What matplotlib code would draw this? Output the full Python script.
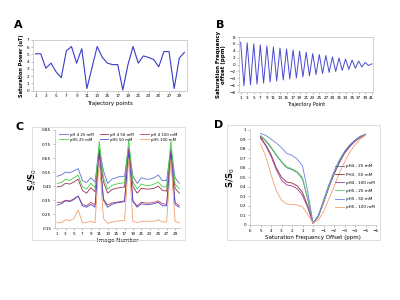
import matplotlib
matplotlib.use("Agg")
import matplotlib.pyplot as plt
from matplotlib.patches import Rectangle
import numpy as np

# ---- panel A : saturation power per trajectory point
a_points = list(range(1, 31))
a_power = [5.1, 5.1, 3.1, 3.8, 2.6, 1.8, 5.5, 6.1, 3.8, 5.8,
           0.3, 3.2, 6.1, 4.6, 3.8, 3.6, 3.6, 0.1, 3.6, 6.1,
           3.8, 4.8, 4.6, 4.3, 3.3, 5.4, 5.4, 0.3, 4.5, 5.3]

# ---- panel B : saturation frequency offset per trajectory point
b_points = list(range(1, 42))
b_offset = [6.5, -6.2, 6.3, -5.9, 6.0, -5.7, 5.7, -5.4, 5.4, -5.1,
            5.1, -4.8, 4.8, -4.5, 4.5, -4.2, 4.2, -3.9, 3.9, -3.6,
            3.6, -3.3, 3.2, -2.9, 2.9, -2.6, 2.6, -2.3, 2.2, -2.0,
            1.9, -1.7, 1.6, -1.4, 1.3, -1.1, 1.0, -0.7, 0.6, -0.3, 0.2]

# ---- panel C : Sf/S0 per image
c_images = list(range(1, 31))
c_labels = ["pH 4 25 mM", "pH 4 50 mM", "pH 4 100 mM",
            "pH5 25 mM", "pH5 50 mM", "pH5 100 mM"]
c_ph4_25 = [0.52, 0.53, 0.55, 0.545, 0.56, 0.575, 0.49, 0.475, 0.51, 0.48,
            0.72, 0.56, 0.47, 0.50, 0.51, 0.52, 0.52, 0.73, 0.52, 0.47,
            0.51, 0.50, 0.50, 0.51, 0.53, 0.49, 0.49, 0.72, 0.51, 0.47]
c_ph4_50 = [0.445, 0.45, 0.47, 0.465, 0.48, 0.50, 0.42, 0.40, 0.44, 0.41,
            0.70, 0.48, 0.40, 0.425, 0.435, 0.44, 0.445, 0.71, 0.45, 0.40,
            0.435, 0.43, 0.43, 0.435, 0.45, 0.42, 0.415, 0.70, 0.435, 0.40]
c_ph4_100 = [0.335, 0.335, 0.35, 0.345, 0.36, 0.38, 0.32, 0.31, 0.335, 0.315,
             0.69, 0.36, 0.315, 0.33, 0.335, 0.34, 0.345, 0.70, 0.345, 0.31,
             0.335, 0.33, 0.33, 0.335, 0.345, 0.325, 0.32, 0.69, 0.335, 0.31]
c_ph5_25 = [0.47, 0.475, 0.50, 0.49, 0.51, 0.53, 0.445, 0.43, 0.47, 0.44,
            0.77, 0.51, 0.43, 0.455, 0.465, 0.47, 0.475, 0.78, 0.48, 0.43,
            0.465, 0.455, 0.455, 0.465, 0.48, 0.445, 0.445, 0.77, 0.465, 0.43]
c_ph5_50 = [0.315, 0.325, 0.345, 0.34, 0.355, 0.38, 0.31, 0.30, 0.32, 0.30,
            0.68, 0.35, 0.30, 0.32, 0.33, 0.335, 0.34, 0.69, 0.34, 0.30,
            0.325, 0.32, 0.32, 0.325, 0.335, 0.31, 0.31, 0.68, 0.32, 0.30]
c_ph5_100 = [0.19, 0.19, 0.21, 0.205, 0.22, 0.28, 0.19, 0.19, 0.20, 0.19,
             0.64, 0.22, 0.185, 0.195, 0.20, 0.205, 0.205, 0.65, 0.20, 0.19,
             0.20, 0.20, 0.20, 0.20, 0.21, 0.195, 0.195, 0.64, 0.20, 0.19]
c_colors = ["#6070d0", "#993355", "#c04050", "#44d044", "#4848d8", "#f0a070"]

# ---- panel D : z-spectra
d_offset = [5, 4.5, 4, 3.5, 3, 2.5, 2, 1.5, 1, 0.5, 0,
            -0.5, -1, -1.5, -2, -2.5, -3, -3.5, -4, -4.5, -5]
d_labels = ["pH4 - 25 mM", "PH4 - 50 mM", "pH4 - 100 mM",
            "pH5 - 25 mM", "pH5 - 50 mM", "pH5 - 100 mM"]
d_ph4_25 = [0.93, 0.88, 0.81, 0.73, 0.66, 0.60, 0.58, 0.55, 0.48, 0.27, 0.02,
            0.09, 0.24, 0.40, 0.54, 0.66, 0.76, 0.83, 0.88, 0.92, 0.95]
d_ph4_50 = [0.92, 0.84, 0.74, 0.60, 0.50, 0.45, 0.44, 0.41, 0.34, 0.20, 0.02,
            0.09, 0.24, 0.40, 0.54, 0.66, 0.76, 0.83, 0.88, 0.92, 0.95]
d_ph4_100 = [0.91, 0.83, 0.72, 0.58, 0.47, 0.42, 0.41, 0.38, 0.31, 0.18, 0.02,
             0.09, 0.23, 0.39, 0.53, 0.65, 0.75, 0.82, 0.88, 0.92, 0.95]
d_ph5_25 = [0.94, 0.89, 0.82, 0.74, 0.67, 0.61, 0.59, 0.56, 0.50, 0.28, 0.02,
            0.09, 0.24, 0.40, 0.55, 0.67, 0.77, 0.84, 0.89, 0.93, 0.95]
d_ph5_50 = [0.96, 0.94, 0.90, 0.86, 0.81, 0.75, 0.73, 0.69, 0.62, 0.35, 0.02,
            0.10, 0.26, 0.42, 0.56, 0.68, 0.77, 0.84, 0.89, 0.93, 0.95]
d_ph5_100 = [0.85, 0.72, 0.53, 0.36, 0.26, 0.22, 0.215, 0.21, 0.19, 0.11, 0.02,
             0.05, 0.14, 0.27, 0.40, 0.54, 0.66, 0.76, 0.84, 0.90, 0.94]
d_colors = ["#5b6a8a", "#8b2d3a", "#a0409a", "#5cd65c", "#6f7fe0", "#f4a070"]

tick_fs = 3
label_fs = 4
gray = "#c8c8c8"

fig = plt.figure(figsize=(4, 3), dpi=100)

def style(ax, box=True):
  for s in ax.spines.values():
    s.set_color(gray)
    s.set_linewidth(0.6)
  if not box:
    ax.spines["top"].set_visible(False)
    ax.spines["right"].set_visible(False)
  ax.tick_params(labelsize=tick_fs, length=1.2, width=0.4, pad=1.5, color="#888888")

#--------------------------------------------------------
#- A
#--------------------------------------------------------
axA = fig.add_axes([0.0825, 0.6977, 0.385, 0.169])
axA.plot(a_points, a_power, color="#3a3ac8", lw=0.8)
axA.set_xlim(0.5, 30.5)
axA.set_ylim(0, 7)
axA.set_xticks(range(1, 30, 2))
axA.set_yticks(range(0, 8))
axA.set_xlabel("Trajectory points", fontsize=label_fs, labelpad=1.5)
axA.set_ylabel("Saturation Power (uT)", fontsize=3.6, fontweight="bold", labelpad=2)
style(axA)
fig.text(0.035, 0.915, "A", fontsize=8, fontweight="bold", va="center")

#--------------------------------------------------------
#- B
#--------------------------------------------------------
axB = fig.add_axes([0.5975, 0.6933, 0.336, 0.1833])
axB.plot(b_points, b_offset, color="#4a4ad0", lw=0.7)
axB.set_xlim(0.5, 41.5)
axB.set_ylim(-8, 8)
axB.set_xticks(range(1, 42, 2))
axB.set_yticks(range(-8, 9, 2))
axB.set_xlabel("Trajectory Point", fontsize=3.5, labelpad=1.5)
axB.set_ylabel("Saturation Frequency\noffset (ppm)", fontsize=4,
               fontweight="bold", labelpad=2, linespacing=1.1)
style(axB)
fig.text(0.54, 0.915, "B", fontsize=8, fontweight="bold", va="center")

#--------------------------------------------------------
#- C
#--------------------------------------------------------
fig.patches.append(Rectangle((0.08, 0.2), 0.3825, 0.377, transform=fig.transFigure,
                             fill=False, edgecolor="#d8d8d8", lw=0.6))
axC = fig.add_axes([0.1375, 0.239, 0.316, 0.3277])
c_series = [c_ph4_25, c_ph4_50, c_ph4_100, c_ph5_25, c_ph5_50, c_ph5_100]
handles = []
for vals, col, lab in zip(c_series, c_colors, c_labels):
  h, = axC.plot(c_images, vals, color=col, lw=0.6, label=lab)
  handles.append(h)
axC.set_xlim(0.5, 30.5)
axC.set_ylim(0.15, 0.85)
axC.set_xticks(range(1, 30, 2))
axC.set_yticks(np.arange(0.15, 0.86, 0.1))
axC.set_yticklabels(["%.2f" % v for v in np.arange(0.15, 0.86, 0.1)])
axC.set_xlabel("Image Number", fontsize=label_fs, labelpad=1.5)
axC.set_ylabel("S$_f$/S$_0$", fontsize=6, fontweight="bold", labelpad=2)
style(axC, box=False)
order = [0, 3, 1, 4, 2, 5]
axC.legend([handles[i] for i in order], [c_labels[i] for i in order], ncol=3,
           fontsize=2.8, frameon=False, loc="upper center", bbox_to_anchor=(0.5, 1.01),
           handlelength=2.2, handletextpad=0.5, columnspacing=1.6, labelspacing=0.3)
fig.text(0.04, 0.578, "C", fontsize=8, fontweight="bold", va="center")

#--------------------------------------------------------
#- D
#--------------------------------------------------------
fig.patches.append(Rectangle((0.5675, 0.2), 0.3825, 0.383, transform=fig.transFigure,
                             fill=False, edgecolor="#d8d8d8", lw=0.6))
axD = fig.add_axes([0.625, 0.25, 0.315, 0.318])
d_series = [d_ph4_25, d_ph4_50, d_ph4_100, d_ph5_25, d_ph5_50, d_ph5_100]
for vals, col, lab in zip(d_series, d_colors, d_labels):
  axD.plot(d_offset, vals, color=col, lw=0.6, label=lab)
axD.set_xlim(6, -6)
axD.set_ylim(0, 1)
axD.set_xticks(range(6, -7, -1))
axD.set_yticks(np.arange(0, 1.01, 0.1))
axD.set_yticklabels(["%g" % round(v, 1) for v in np.arange(0, 1.01, 0.1)])
axD.set_xlabel("Saturation Frequency Offset (ppm)", fontsize=label_fs, labelpad=1.5)
axD.set_ylabel("S/S$_0$", fontsize=6, fontweight="bold", labelpad=2)
style(axD, box=False)
axD.legend(fontsize=3, frameon=False, loc="center right", bbox_to_anchor=(1.02, 0.4),
           handlelength=2.2, handletextpad=0.5, labelspacing=1.0)
fig.text(0.535, 0.585, "D", fontsize=8, fontweight="bold", va="center")

plt.savefig("out.png", dpi=100)
